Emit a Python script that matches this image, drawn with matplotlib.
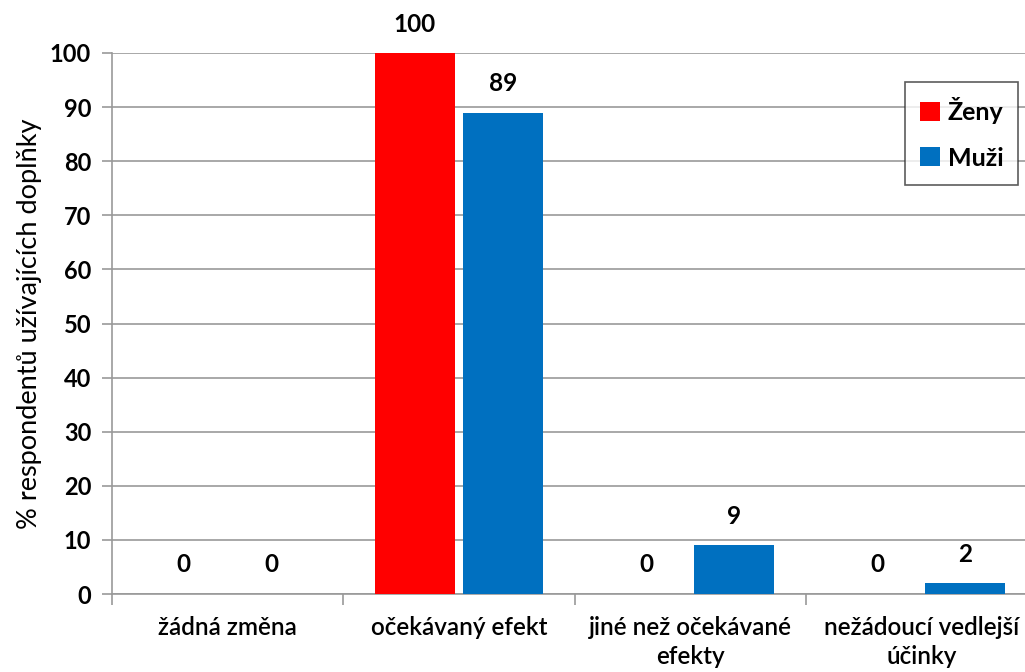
import numpy as np
import matplotlib.pyplot as plt

plt.rcParams['font.family'] = ['Lato', 'DejaVu Sans']

categories = ['žádná změna', 'očekávaný efekt', 'jiné než očekávané\nefekty', 'nežádoucí vedlejší\núčinky']
zeny = [0, 100, 0, 0]
muzi = [0, 89, 9, 2]

fig = plt.figure(figsize=(10.25, 6.72), dpi=100)
ax = fig.add_axes([112 / 1025, 1 - 594 / 672, (1037 - 112) / 1025, (594 - 53) / 672])

x = np.arange(len(categories))
w = 0.346
off = 0.19
b1 = ax.bar(x - off, zeny, w, color='#FF0000', label='Ženy', zorder=3)
b2 = ax.bar(x + off, muzi, w, color='#0070C0', label='Muži', zorder=3)

for bars, vals in ((b1, zeny), (b2, muzi)):
    for rect, v in zip(bars, vals):
        ax.annotate(str(v), (rect.get_x() + rect.get_width() / 2, v),
                    xytext=(0, 29), textcoords='offset pixels',
                    ha='center', va='center', fontsize=17.5, fontweight='bold',
                    bbox=dict(facecolor='white', edgecolor='none', pad=1),
                    zorder=4, annotation_clip=False)

ax.set_xlim(-0.5, 3.5)
ax.set_ylim(0, 100)
ax.set_yticks(range(0, 101, 10))
ax.yaxis.grid(True, color='#999999', linewidth=1.2, zorder=0)
ax.set_axisbelow(True)

ax.set_xticks(np.arange(-0.5, 4.0, 1.0))
ax.set_xticklabels([])
ax.set_xticks(x, minor=True)
ax.set_xticklabels(categories, minor=True, fontsize=17.5, fontweight='semibold', linespacing=1.3)
ax.tick_params(axis='x', which='minor', length=0, pad=16)
ax.tick_params(axis='x', which='major', length=8, color='#999999', width=1.2)
ax.tick_params(axis='y', length=7, color='#999999', width=1.2, labelsize=17, pad=8)
for lbl in ax.get_yticklabels():
    lbl.set_fontweight('bold')

for s in ['top', 'right']:
    ax.spines[s].set_visible(False)
for s in ['left', 'bottom']:
    ax.spines[s].set_color('#999999')
    ax.spines[s].set_linewidth(1.2)

ax.set_ylabel('% respondentů užívajících doplňky', fontsize=19.5, labelpad=6)

leg = ax.legend(loc='upper left', bbox_to_anchor=((905 - 112) / 925, 1 - (82 - 53) / 541),
                prop={'weight': 'bold', 'size': 18}, frameon=True, fancybox=False,
                handlelength=0.8, handleheight=0.8, handletextpad=0.3,
                labelspacing=0.9, borderpad=0.6, borderaxespad=0)
leg.get_frame().set_edgecolor('#333333')
leg.get_frame().set_linewidth(1.2)

fig.savefig('out.png', dpi=100)
